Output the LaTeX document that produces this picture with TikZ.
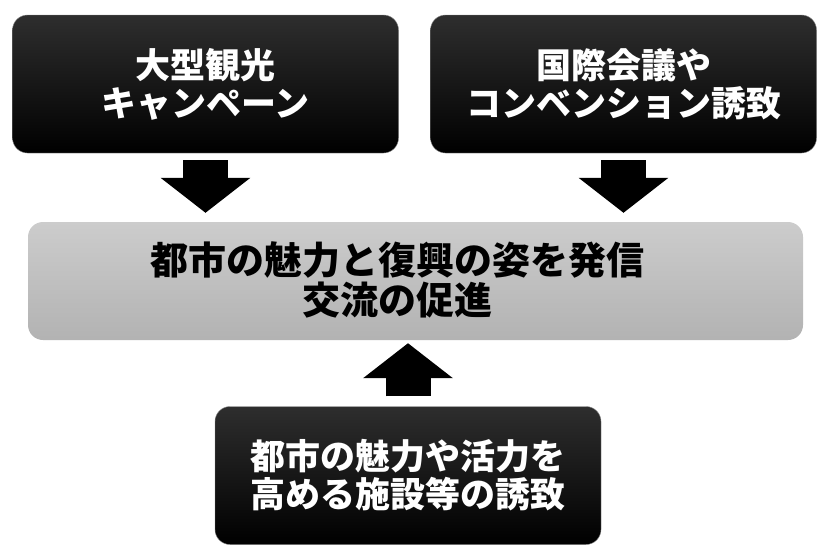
\documentclass[tikz,border=0pt]{standalone}
\usepackage{fontspec}
\newfontfamily\jpfont{Noto Sans CJK JP}
\usetikzlibrary{arrows.meta,positioning}

\begin{document}
\begin{tikzpicture}[x=1pt, y=-1pt,
      darkbox/.style={rounded corners=15pt, minimum width=386pt,
        minimum height=138pt, top color=black!82, bottom color=black,
        draw=black!45, thin, text=white, align=center,
        font=\jpfont\bfseries\fontsize{35}{38}\selectfont},
      hub/.style={rounded corners=15pt, minimum width=775pt,
        minimum height=118pt, top color=black!20, bottom color=black!30,
        draw=none},
      hubtext/.style={align=center,
        font=\jpfont\bfseries\fontsize{38}{40}\selectfont},
      bigarrow/.style={line width=45pt, draw=black,
        -{Triangle[width=88pt, length=35pt]}},
    ]
    \useasboundingbox (0,0) rectangle (830,557);

    % Boxes
    \node[darkbox] (campaign) at (205.5, 84) {大型観光\\キャンペーン};
    \node[darkbox] (congress) at (623.5, 84) {国際会議や\\コンベンション誘致};
    \node[hub] (goal) at (415.5, 281) {};
    \node[hubtext] (goaltext) at (397, 280)
      {都市の魅力と復興の姿を発信\\交流の促進};
    \node[darkbox] (facility) at (408, 475.5)
      {都市の魅力や活力を\\高める施設等の誘致};

    % Arrows
    \draw[bigarrow, shorten <=7pt, shorten >=9pt]
      (campaign.south) -- (campaign.south |- goal.north);
    \draw[bigarrow, shorten <=7pt, shorten >=9pt]
      (congress.south) -- (congress.south |- goal.north);
    \draw[bigarrow, shorten <=10pt, shorten >=3pt]
      (facility.north) -- (facility.north |- goal.south);
  \end{tikzpicture}
\end{document}
